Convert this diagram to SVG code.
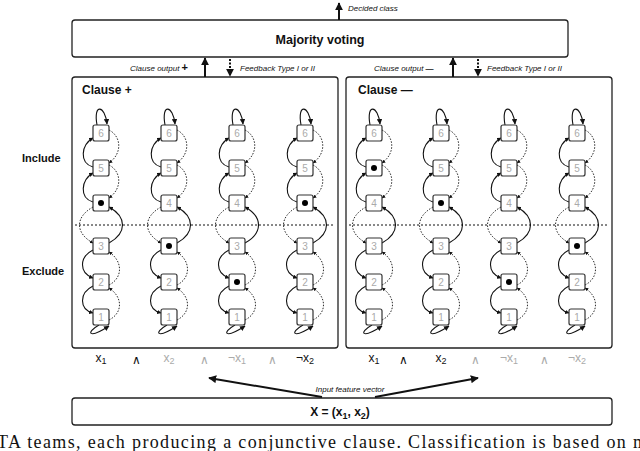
<svg xmlns="http://www.w3.org/2000/svg" xmlns:xlink="http://www.w3.org/1999/xlink" width="640" height="451" viewBox="0 0 640 451">
<style>
.box{fill:#fff;stroke:#222;stroke-width:1.3}
.st{fill:#fff;stroke:#333;stroke-width:1.2}
.n{font:10px "Liberation Sans",sans-serif;fill:#aaa;text-anchor:middle}
.t{font-family:"Liberation Sans",Arial,sans-serif;fill:#111}
.it{font:italic 8px "Liberation Sans",sans-serif;fill:#111}
.s{fill:none;stroke:#111;stroke-width:1.1}
.d{fill:none;stroke:#111;stroke-width:0.9;stroke-dasharray:1.5,1.5}
.big{fill:none;stroke:#111;stroke-width:2}
.lit{font:12px "Liberation Sans",sans-serif;text-anchor:middle}
</style>
<defs>
<marker id="a" viewBox="0 0 10 10" refX="9" refY="5" markerWidth="5" markerHeight="5" orient="auto"><path d="M0,0L10,5L0,10z" fill="#111"/></marker>
<marker id="b" viewBox="0 0 10 10" refX="9" refY="5" markerWidth="4" markerHeight="4" orient="auto"><path d="M0,0L10,5L0,10z" fill="#111"/></marker>
<g id="col">
<path class="s" marker-end="url(#a)" d="M-4,-8 C-8,-30 4,-28 6,-9"/>
<path class="s" marker-end="url(#a)" d="M-2,192 C-16,200 -12,206 8,193"/>
<path class="s" marker-end="url(#b)" d="M-8,34 C-22,30 -20,12 -8,5"/>
<path class="s" marker-end="url(#b)" d="M-8,69 C-22,65 -20,47 -8,40"/>
<path class="d" marker-end="url(#b)" d="M-8,74 C-26,84 -26,100 -8,110"/>
<path class="s" marker-end="url(#b)" d="M-8,117 C-22,124 -22,140 -8,145"/>
<path class="s" marker-end="url(#b)" d="M-8,153 C-22,160 -22,176 -8,180"/>
<path class="d" marker-end="url(#b)" d="M8,-3 C20,3 22,20 8,30"/>
<path class="d" marker-end="url(#b)" d="M8,32 C20,38 22,55 8,65"/>
<path class="s" marker-end="url(#b)" d="M8,110 C26,100 26,84 8,74"/>
<path class="d" marker-end="url(#b)" d="M8,187 C22,180 22,164 8,155"/>
<path class="d" marker-end="url(#b)" d="M8,152 C22,145 22,128 8,119"/>
<rect class="st" x="-8" y="-8" width="16" height="16" rx="2"/>
<rect class="st" x="-8" y="27" width="16" height="16" rx="2"/>
<rect class="st" x="-8" y="62" width="16" height="16" rx="2"/>
<rect class="st" x="-8" y="105" width="16" height="16" rx="2"/>
<rect class="st" x="-8" y="141" width="16" height="16" rx="2"/>
<rect class="st" x="-8" y="176" width="16" height="16" rx="2"/>
</g>
</defs>
<g id="majority"><rect class="box" x="72" y="20" width="496" height="37" rx="3"/><text class="t" x="320" y="44" font-size="12.5" font-weight="bold" text-anchor="middle">Majority voting</text></g>
<g id="clausePlus"><rect class="box" x="72" y="77" width="266" height="271" rx="3"/><text class="t" x="82" y="94" font-size="12" font-weight="bold">Clause +</text></g>
<g id="clauseMinus"><rect class="box" x="346" y="77" width="266" height="271" rx="3"/><text class="t" x="358" y="94" font-size="12" font-weight="bold">Clause —</text></g>
<g id="input"><rect class="box" x="72" y="398" width="540" height="27" rx="3"/><text class="t" x="340" y="416" font-size="12" font-weight="bold" text-anchor="middle">X = (x<tspan font-size="9" dy="3">1</tspan><tspan dy="-3">, x</tspan><tspan font-size="9" dy="3">2</tspan><tspan dy="-3">)</tspan></text></g>
<text class="t" x="22" y="162" font-size="11" font-weight="bold">Include</text>
<text class="t" x="22" y="275" font-size="11" font-weight="bold">Exclude</text>
<line x1="75" y1="225" x2="335" y2="225" stroke="#111" stroke-dasharray="2,2"/>
<line x1="349" y1="225" x2="609" y2="225" stroke="#111" stroke-dasharray="2,2"/>
<g id="teams">
<g transform="translate(101,133)"><use xlink:href="#col"/><text class="n" y="4">6</text><text class="n" y="39">5</text><circle cy="70" r="3"/><text class="n" y="117">3</text><text class="n" y="153">2</text><text class="n" y="188">1</text></g>
<g transform="translate(169,133)"><use xlink:href="#col"/><text class="n" y="4">6</text><text class="n" y="39">5</text><text class="n" y="74">4</text><circle cy="113" r="3"/><text class="n" y="153">2</text><text class="n" y="188">1</text></g>
<g transform="translate(237,133)"><use xlink:href="#col"/><text class="n" y="4">6</text><text class="n" y="39">5</text><text class="n" y="74">4</text><text class="n" y="117">3</text><circle cy="149" r="3"/><text class="n" y="188">1</text></g>
<g transform="translate(305,133)"><use xlink:href="#col"/><text class="n" y="4">6</text><text class="n" y="39">5</text><circle cy="70" r="3"/><text class="n" y="117">3</text><text class="n" y="153">2</text><text class="n" y="188">1</text></g>
<g transform="translate(374,133)"><use xlink:href="#col"/><text class="n" y="4">6</text><circle cy="35" r="3"/><text class="n" y="74">4</text><text class="n" y="117">3</text><text class="n" y="153">2</text><text class="n" y="188">1</text></g>
<g transform="translate(441,133)"><use xlink:href="#col"/><text class="n" y="4">6</text><text class="n" y="39">5</text><circle cy="70" r="3"/><text class="n" y="117">3</text><text class="n" y="153">2</text><text class="n" y="188">1</text></g>
<g transform="translate(509,133)"><use xlink:href="#col"/><text class="n" y="4">6</text><text class="n" y="39">5</text><text class="n" y="74">4</text><text class="n" y="117">3</text><circle cy="149" r="3"/><text class="n" y="188">1</text></g>
<g transform="translate(577,133)"><use xlink:href="#col"/><text class="n" y="4">6</text><text class="n" y="39">5</text><text class="n" y="74">4</text><circle cy="113" r="3"/><text class="n" y="153">2</text><text class="n" y="188">1</text></g>
</g>
<g id="literals">
<text class="lit" x="101" y="362" fill="#111">x<tspan font-size="9" dy="2">1</tspan></text>
<text class="lit" x="136" y="364" fill="#111" font-weight="bold">∧</text>
<text class="lit" x="169" y="362" fill="#aaa">x<tspan font-size="9" dy="2">2</tspan></text>
<text class="lit" x="204" y="364" fill="#aaa">∧</text>
<text class="lit" x="237" y="362" fill="#aaa">¬x<tspan font-size="9" dy="2">1</tspan></text>
<text class="lit" x="272" y="364" fill="#aaa">∧</text>
<text class="lit" x="305" y="362" fill="#111">¬x<tspan font-size="9" dy="2">2</tspan></text>
<text class="lit" x="374" y="362" fill="#111">x<tspan font-size="9" dy="2">1</tspan></text>
<text class="lit" x="403" y="364" fill="#111" font-weight="bold">∧</text>
<text class="lit" x="441" y="362" fill="#111">x<tspan font-size="9" dy="2">2</tspan></text>
<text class="lit" x="475" y="364" fill="#aaa">∧</text>
<text class="lit" x="509" y="362" fill="#aaa">¬x<tspan font-size="9" dy="2">1</tspan></text>
<text class="lit" x="544" y="364" fill="#aaa">∧</text>
<text class="lit" x="577" y="362" fill="#aaa">¬x<tspan font-size="9" dy="2">2</tspan></text>
</g>
<g id="connectors">
<line class="big" x1="339" y1="20" x2="339" y2="3" marker-end="url(#b)"/>
<text class="it" x="348" y="11">Decided class</text>
<line class="big" x1="205" y1="77" x2="205" y2="58" marker-end="url(#b)"/>
<text class="it" x="130" y="71">Clause output <tspan font-style="normal" font-weight="bold" font-size="11">+</tspan></text>
<line class="big" x1="230" y1="59" x2="230" y2="76" stroke-dasharray="2,1.5" marker-end="url(#b)"/>
<text class="it" x="240" y="71">Feedback Type I or II</text>
<line class="big" x1="453" y1="77" x2="453" y2="58" marker-end="url(#b)"/>
<text class="it" x="374" y="71">Clause output <tspan font-style="normal" font-weight="bold">—</tspan></text>
<line class="big" x1="478" y1="59" x2="478" y2="76" stroke-dasharray="2,1.5" marker-end="url(#b)"/>
<text class="it" x="487" y="71">Feedback Type I or II</text>
<line class="big" x1="322" y1="397" x2="209" y2="378" marker-end="url(#b)"/>
<line class="big" x1="375" y1="397" x2="478" y2="378" marker-end="url(#b)"/>
<text class="it" x="350" y="392" text-anchor="middle">Input feature vector</text>
</g>
<text x="-3" y="448" font-family="Liberation Serif,serif" font-size="18" textLength="650" fill="#111">TA teams, each producing a conjunctive clause. Classification is based on m</text>
</svg>
